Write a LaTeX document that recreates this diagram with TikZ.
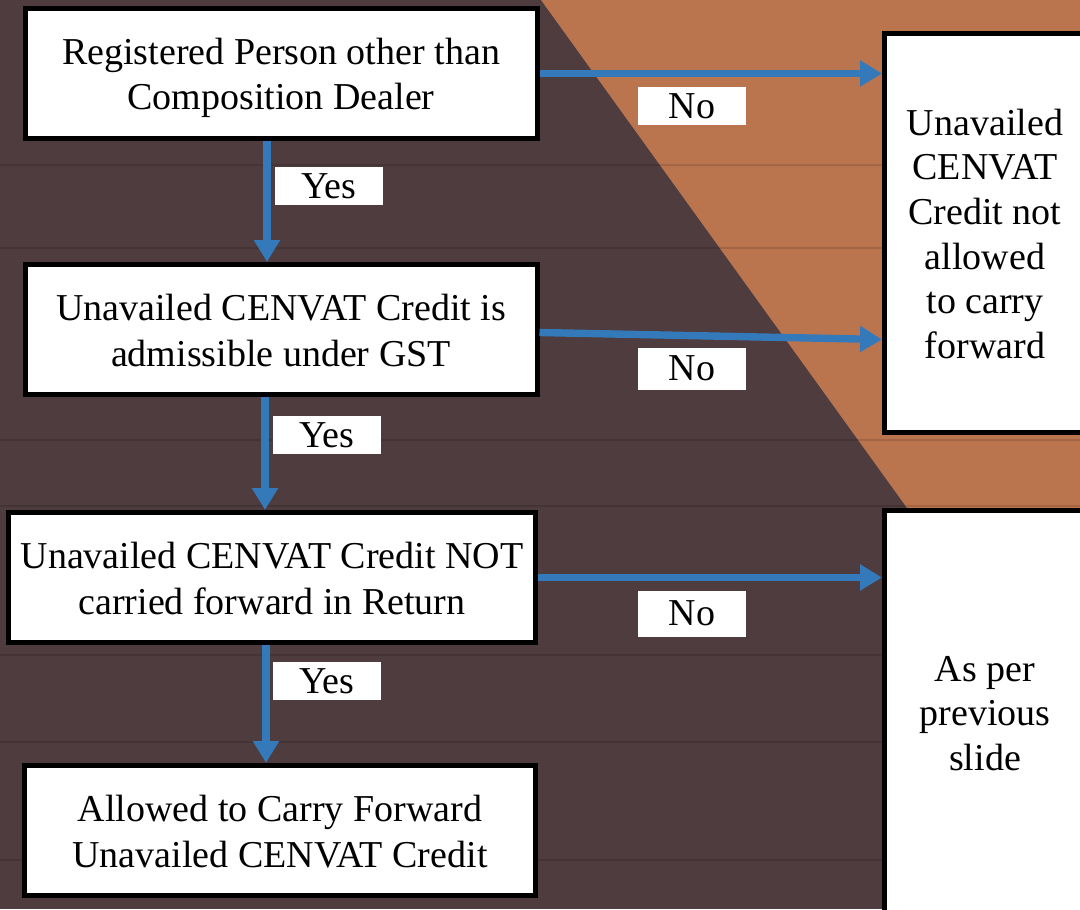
\documentclass[tikz,border=0pt]{standalone}
\usepackage{fontspec}
\setmainfont{Liberation Serif}
\usetikzlibrary{calc}
\usetikzlibrary{arrows.meta}

\definecolor{darkwood}{RGB}{78,60,62}
\definecolor{lightwood}{RGB}{186,116,78}
\definecolor{flowblue}{RGB}{52,122,186}

% strut for the first line of a box
\newcommand{\boxtop}{\rule{0pt}{18.75pt}}

\tikzset{
  stepbox/.style={draw=black, line width=2.5pt, fill=white, align=center,
    font=\fontsize{19}{22.75}\selectfont, inner sep=0pt,
    execute at end node={\rule[-5pt]{0pt}{0pt}}},
  sidebox/.style={stepbox, minimum width=100.5pt,
    font=\fontsize{19}{22.3}\selectfont},
  answer/.style={fill=white, minimum width=54pt, minimum height=19pt,
    inner sep=0pt, font=\fontsize{19}{22.5}\selectfont},
  flow/.style={draw=flowblue, line width=3.7pt, -{Triangle[length=11pt,width=12.5pt]}}
}

\begin{document}
\begin{tikzpicture}[x=0.5pt,y=-0.5pt]
        \useasboundingbox (0,0) rectangle (1080,909);
        \clip (0,0) rectangle (1080,909);

        % Wooden background
        \fill[darkwood] (0,0) rectangle (1080,909);
        \fill[lightwood] (541,0) -- (1080,0) -- (1080,748) -- cycle;
        \foreach \y in {165,248,440,506,655,742,860}
            \draw[black, opacity=0.12, line width=1pt] (0,\y) -- (1080,\y);

        % Question boxes
        \node[stepbox, minimum width=256pt, minimum height=65pt] (reg) at (281,73.5)
            {\boxtop Registered Person other than\\Composition Dealer};
        \node[stepbox, minimum width=256pt, minimum height=65pt] (adm) at (281,329.5)
            {\boxtop Unavailed CENVAT Credit is\\admissible under GST};
        \node[stepbox, minimum width=263.5pt, minimum height=65pt] (ret) at (272,577.5)
            {\boxtop Unavailed CENVAT Credit NOT\\carried forward in Return};
        \node[stepbox, minimum width=255.5pt, minimum height=65pt] (fwd) at (280,830.5)
            {\boxtop Allowed to Carry Forward\\Unavailed CENVAT Credit};

        % Result boxes on the right
        \node[sidebox, minimum height=199.5pt] (nocarry) at (985,233)
            {\boxtop Unavailed\\CENVAT\\Credit not\\allowed\\to carry\\forward};
        \node[sidebox, minimum height=201.5pt] (prev) at (985,712)
            {\boxtop As per\\previous\\slide};

        % Yes arrows
        \coordinate (y1) at ($(reg.south)+(-14,0)$);
        \coordinate (y2) at ($(adm.south)+(-16,0)$);
        \coordinate (y3) at ($(ret.south)+(-6,0)$);
        \draw[flow] (y1) -- (y1 |- adm.north);
        \draw[flow] (y2) -- (y2 |- ret.north);
        \draw[flow] (y3) -- (y3 |- fwd.north);

        % No arrows
        \draw[flow] (reg.east) -- (reg.east -| nocarry.west);
        \draw[flow] ($(adm.east)+(0,3)$) -- ($(adm.east -| nocarry.west)+(0,10)$);
        \draw[flow] (ret.east) -- (ret.east -| prev.west);

        % Labels
        \node[answer] (yes1) at (329,186) {Yes};
        \node[answer] (yes2) at (327,435) {Yes};
        \node[answer] (yes3) at (327,681) {Yes};
        \node[answer] (no1) at (692,106) {No};
        \node[answer, minimum height=21pt] (no2) at (692,368.5) {No};
        \node[answer, minimum height=23pt] (no3) at (692,613.5) {No};

      \end{tikzpicture}
\end{document}
